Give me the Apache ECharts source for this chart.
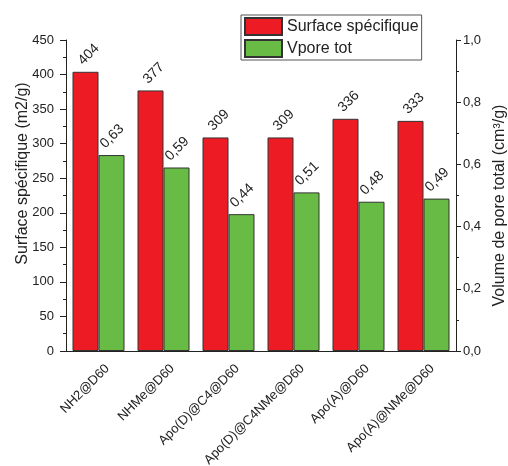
<!DOCTYPE html>
<html>
<head>
<meta charset="utf-8">
<script src="https://cdn.jsdelivr.net/npm/echarts@6/dist/echarts.min.js"></script>
<style>html,body{margin:0;padding:0;background:#fff}#c{width:508px;height:466px}</style>
</head>
<body>
<div id="c"></div>
<script>
var categories = ['NH2@D60', 'NHMe@D60', 'Apo(D)@C4@D60', 'Apo(D)@C4NMe@D60', 'Apo(A)@D60', 'Apo(A)@NMe@D60'];
var surfaceValues = [404, 377, 309, 309, 336, 333];
var vporeValues = [0.63, 0.59, 0.44, 0.51, 0.48, 0.49];
var leftTicks = [0, 450, 50];
var rightTicks = [0, 1, 0.2];

var FONT = '"Liberation Sans", Arial, sans-serif';
var TXT = '#222';
var chart = echarts.init(document.getElementById('c'), null, {renderer: 'canvas'});
function comma(v, d) { return v.toFixed(d).replace('.', ','); }

chart.setOption({
  animation: false,
  textStyle: {fontFamily: FONT},
  grid: {left: 66, right: 52, top: 40, bottom: 115, containLabel: false, outerBoundsMode: 'none'},
  legend: {
    left: 241, top: 15, orient: 'vertical',
    padding: [2, 3, 2, 3], itemGap: 3,
    itemWidth: 37, itemHeight: 17, icon: 'rect',
    borderColor: '#555', borderWidth: 1,
    textStyle: {fontSize: 16, color: TXT, fontFamily: FONT, lineHeight: 17},
    data: ['Surface spécifique', 'Vpore tot']
  },
  xAxis: [{
    type: 'category', data: categories, position: 'bottom',
    axisLine: {lineStyle: {color: '#222', width: 1}},
    axisTick: {alignWithLabel: true, length: 5, lineStyle: {color: '#222'}},
    axisLabel: {rotate: 45, fontSize: 13, color: TXT, fontFamily: FONT, margin: 11, interval: 0,
      verticalAlign: 'top', padding: [3, -3, 0, 0]},
    splitLine: {show: false}
  }, {
    type: 'category', data: categories, position: 'bottom',
    axisLine: {show: false},
    axisTick: {length: 3, lineStyle: {color: '#222'}},
    axisLabel: {show: false},
    splitLine: {show: false}
  }],
  yAxis: [{
    type: 'value', position: 'left',
    min: leftTicks[0], max: leftTicks[1], interval: leftTicks[2],
    name: 'Surface spécifique (m2/g)', nameLocation: 'middle', nameGap: 35, nameRotate: 90,
    nameMoveOverlap: false,
    nameTextStyle: {fontSize: 16, color: TXT, fontFamily: FONT, padding: [0, 0, 0, 44]},
    axisLine: {show: true, lineStyle: {color: '#222', width: 1}},
    axisTick: {show: true, length: 6, lineStyle: {color: '#222'}},
    minorTick: {show: true, splitNumber: 2, length: 3, lineStyle: {color: '#222'}},
    axisLabel: {fontSize: 13, color: TXT, fontFamily: FONT, margin: 12},
    splitLine: {show: false}
  }, {
    type: 'value', position: 'right',
    min: rightTicks[0], max: rightTicks[1], interval: rightTicks[2],
    name: 'Volume de pore total (cm³/g)', nameLocation: 'middle', nameGap: 36, nameRotate: 90,
    nameMoveOverlap: false,
    nameTextStyle: {fontSize: 16, color: TXT, fontFamily: FONT, padding: [0, 20, 0, 0]},
    axisLine: {show: true, lineStyle: {color: '#222', width: 1}},
    axisTick: {show: true, length: 5, lineStyle: {color: '#222'}},
    minorTick: {show: true, splitNumber: 2, length: 3, lineStyle: {color: '#222'}},
    axisLabel: {fontSize: 13, color: TXT, fontFamily: FONT, margin: 7, formatter: function (v) { return comma(v, 1); }},
    splitLine: {show: false}
  }],
  series: [{
    name: 'Surface spécifique', type: 'bar', xAxisIndex: 0, yAxisIndex: 0,
    data: surfaceValues, barWidth: 26, barGap: '0%',
    itemStyle: {color: '#ed1c24', borderColor: '#333', borderWidth: 1},
    label: {show: true, position: [8, -9], rotate: 45, align: 'left', verticalAlign: 'middle',
      fontSize: 14, color: TXT, fontFamily: FONT, formatter: function (p) { return String(p.value); }}
  }, {
    name: 'Vpore tot', type: 'bar', xAxisIndex: 0, yAxisIndex: 1,
    data: vporeValues, barWidth: 26, barGap: '0%',
    itemStyle: {color: '#68bb45', borderColor: '#333', borderWidth: 1},
    label: {show: true, position: [4, -9], rotate: 45, align: 'left', verticalAlign: 'middle',
      fontSize: 14, color: TXT, fontFamily: FONT, formatter: function (p) { return comma(p.value, 2); }}
  }]
});
</script>
</body>
</html>
